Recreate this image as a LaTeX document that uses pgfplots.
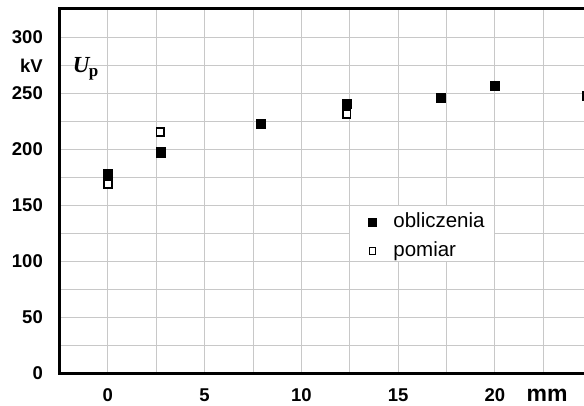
\documentclass[border=0pt]{standalone}
\usepackage{pgfplots}
\pgfplotsset{compat=1.18}
\usepackage{fontspec}
\setmainfont{Liberation Sans}
\newfontfamily\seriffont{Liberation Serif}
\definecolor{gridgray}{RGB}{200,200,200}

\begin{document}
\begin{tikzpicture}[x=1pt,y=1pt]
\useasboundingbox (0,0) rectangle (584,405);
\begin{axis}[
  at={(59.5pt,31.7pt)}, anchor=south west,
  scale only axis, width=527.3pt, height=364.8pt,
  xmin=-2.5, xmax=24.75, ymin=0, ymax=326,
  xtick={0,5,10,15,20,22.7},
  xticklabels={0,5,10,15,20,{\fontsize{23}{23}\selectfont mm}},
  ytick={0,50,100,150,200,250,275,300},
  yticklabels={0,50,100,150,200,250,kV,300},
  minor xtick={0,2.5,...,22.5},
  minor ytick={25,50,...,300},
  grid=minor,
  minor grid style={gridgray, line width=1pt},
  major tick length=0pt, minor tick length=0pt,
  axis line style={line width=3.5pt, black},
  /pgf/number format/assume math mode=true,
  tick label style={font=\fontsize{18.5}{18.5}\selectfont\bfseries},
  yticklabel style={anchor=east, inner sep=0pt, xshift=-16.5pt},
  xticklabel style={anchor=base, inner sep=0pt, yshift=-28.2pt},
  legend style={at={(axis cs:13.35,143.3)}, anchor=north west,
    fill=none, draw=none, inner sep=0pt,
    font=\fontsize{20.5}{20.5}\selectfont,
    nodes={inner sep=0pt, text height=14pt, text depth=4pt},
    column sep=15pt, row sep=11pt},
  legend cell align=left,
]
% white panel behind the legend
\fill[white] (axis cs:12.53,149.5) rectangle (axis cs:19.97,100.5);

\addplot[only marks, mark=square*, mark size=4.6pt,
  mark options={fill=black, draw=black, line width=0.4pt},
  legend image code/.code={
    \path[draw=none, fill=none] (-6pt,0pt) -- (6pt,0pt);
    \path[draw=none] plot[mark=square*, mark size=3.85pt,
      mark options={fill=black, draw=black, line width=0.4pt}]
      coordinates {(0pt,0pt)};}]
  coordinates {
    (0,178) (2.71,197.6) (7.89,222.7) (12.34,241)
    (17.21,246) (20.0,256.8) (24.75,248)
  };
\addlegendentry{obliczenia}

\addplot[only marks, mark=square*, mark size=3.9pt,
  mark options={fill=white, draw=black, line width=1.8pt},
  legend image code/.code={
    \path[draw=none, fill=none] (-6pt,0pt) -- (6pt,0pt);
    \path[draw=none] plot[mark=square*, mark size=3.2pt,
      mark options={fill=white, draw=black, line width=1.1pt}]
      coordinates {(0pt,0pt)};}]
  coordinates {
    (0,169) (2.71,215.9) (12.34,231.5)
  };
\addlegendentry{pomiar}

\node at (axis cs:-1.15,272)
  {\seriffont\bfseries\fontsize{23}{23}\selectfont\itshape U\kern-0.5pt\raisebox{-4pt}{\upshape\fontsize{17}{17}\selectfont p}};
\end{axis}
\end{tikzpicture}
\end{document}
